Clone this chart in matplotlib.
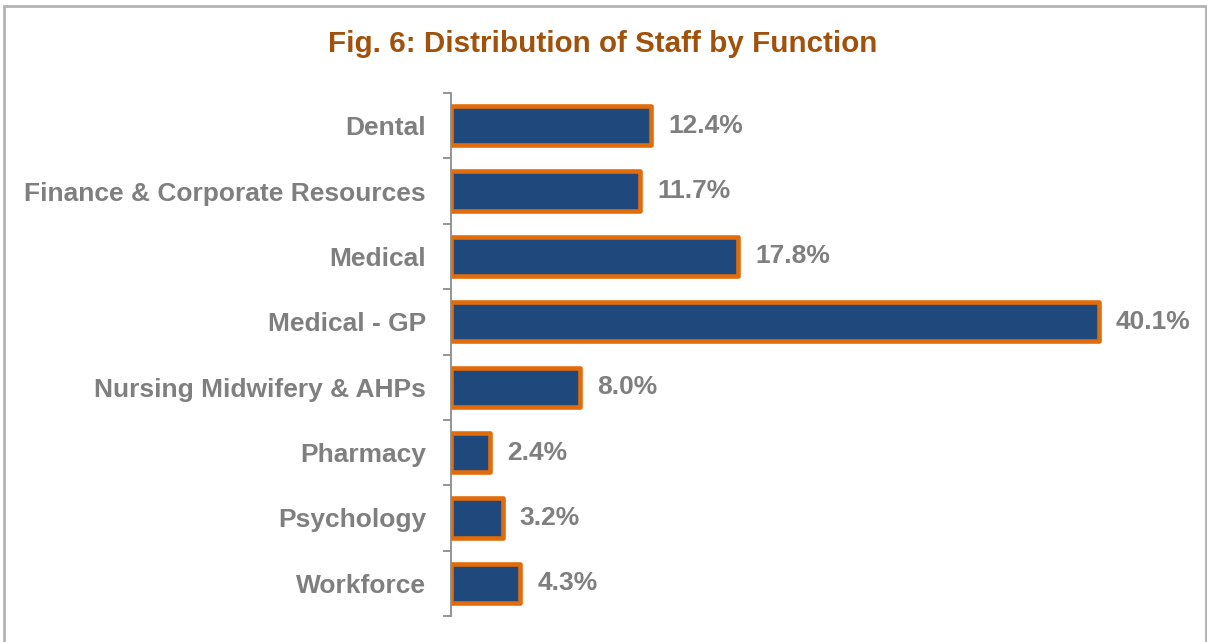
import matplotlib
matplotlib.use('Agg')
from matplotlib import pyplot as plt
from matplotlib.patches import Rectangle
import numpy as np

# Data
functions = ['Dental', 'Finance & Corporate Resources', 'Medical', 'Medical - GP',
             'Nursing Midwifery & AHPs', 'Pharmacy', 'Psychology', 'Workforce']
shares = [12.4, 11.7, 17.8, 40.1, 8.0, 2.4, 3.2, 4.3]

plt.rcParams['font.family'] = ['Liberation Sans', 'DejaVu Sans']
grey = '#7F7F7F'

fig = plt.figure(figsize=(12.07, 6.42), dpi=100)
ax = fig.add_axes([451 / 1207, 1 - 616 / 642, 729 / 1207, 523 / 642])

y = np.arange(len(functions))
bars = ax.barh(y, shares, height=0.6, color='#1F497D', edgecolor='#E36C0A', linewidth=3.3)
for b in bars:
    b.set_joinstyle('round')
ax.set_ylim(len(functions) - 0.5, -0.5)
ax.set_xlim(0, 729 / 16.15)

for yi, v in zip(y, shares):
    ax.text(v + 1.05, yi, f'{v:.1f}%', va='center', ha='left', fontsize=19,
            fontweight='bold', color=grey)

ax.set_yticks(y)
ax.set_yticklabels(functions, fontsize=19, fontweight='bold', color=grey)
ax.tick_params(axis='y', which='major', length=0, pad=18)
ax.set_yticks(np.arange(-0.5, len(functions)), minor=True)
ax.tick_params(axis='y', which='minor', length=6, width=1.3, color='#8C8C8C')
ax.set_xticks([])
for s in ['top', 'right', 'bottom']:
    ax.spines[s].set_visible(False)
ax.spines['left'].set_color('#8C8C8C')
ax.spines['left'].set_linewidth(1.3)

fig.text(603 / 1207, 1 - 44 / 642, 'Fig. 6: Distribution of Staff by Function',
         ha='center', va='center', fontsize=21.3, fontweight='bold', color='#A0510B')

# outer frame
fig.add_artist(Rectangle((4 / 1207, -0.1), 1202 / 1207, 1.1 - 6 / 642,
                         transform=fig.transFigure, fill=False,
                         edgecolor='#B3B3B3', linewidth=2))

fig.savefig('out.png', dpi=100)
